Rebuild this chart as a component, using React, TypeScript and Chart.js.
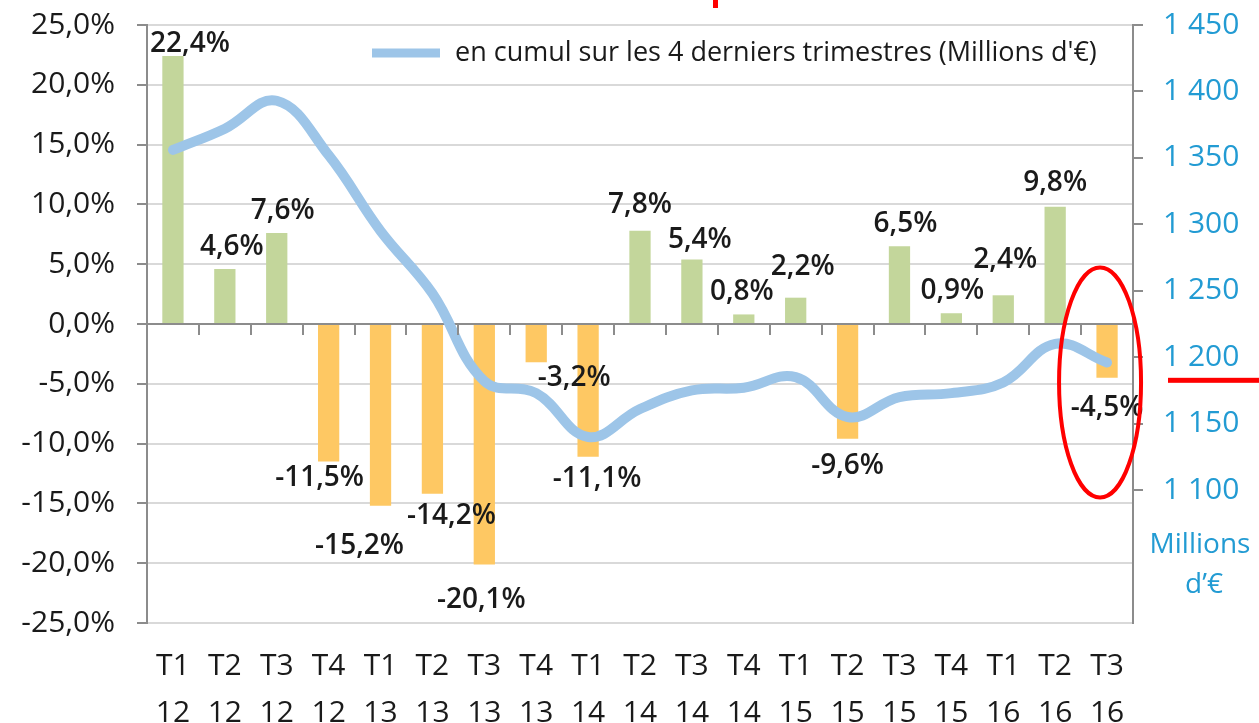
import React, { useEffect, useRef } from 'react';
import { Chart, registerables } from 'chart.js';

Chart.register(...registerables);

// ---- data ----
const quarters = ['T1', 'T2', 'T3', 'T4', 'T1', 'T2', 'T3', 'T4', 'T1', 'T2', 'T3', 'T4', 'T1', 'T2', 'T3', 'T4', 'T1', 'T2', 'T3'];
const years = ['12', '12', '12', '12', '13', '13', '13', '13', '14', '14', '14', '14', '15', '15', '15', '15', '16', '16', '16'];
const growthPct = [22.4, 4.6, 7.6, -11.5, -15.2, -14.2, -20.1, -3.2, -11.1, 7.8, 5.4, 0.8, 2.2, -9.6, 6.5, 0.9, 2.4, 9.8, -4.5];
const cumulMillions = [1356, 1372, 1393, 1352, 1295, 1248, 1182, 1173, 1140, 1161, 1175, 1177, 1185, 1155, 1170, 1173, 1181, 1210, 1196];
const legendLabel = "en cumul sur les 4 derniers trimestres (Millions d'€)";
const rightAxisTitle = ['Millions', 'd\u2019€'];

// label nudges (style only): [dx, dy] in px relative to default placement
const labelNudge: [number, number][] = [
  [17, 10], [7, 0], [6, 0], [-9, -6], [-21, 18], [19, 0], [-3, 14], [38, -6], [9, 0], [0, -4],
  [8, 3], [-2, 0], [7, -9], [0, 5], [6, 0], [1, 0], [2, -13], [0, -2], [0, 8],
];

const FONT = '"Open Sans", "Noto Sans", sans-serif';
const GREEN = '#C3D69B';
const ORANGE = '#FEC863';
const BLUE_LINE = '#9DC5E8';
const BLUE_TEXT = '#229BD3';
const AXIS = '#8C8C8C';
const GRID = '#D9D9D9';
const TEXT = '#1A1A1A';

const fmtPct = (v: number) => v.toFixed(1).replace('.', ',') + '%';
const fmtMillions = (v: number) => {
  const s = String(Math.round(v));
  return s.length > 3 ? s.slice(0, s.length - 3) + ' ' + s.slice(-3) : s;
};

const overlayPlugin = {
  id: 'overlay',
  afterDatasetsDraw(chart: any) {
    const { ctx, chartArea, scales } = chart;
    const x = scales.x;
    const y = scales.y;
    const y0 = y.getPixelForValue(0);

    // tick marks on the zero axis line
    ctx.save();
    ctx.strokeStyle = AXIS;
    ctx.lineWidth = 2;
    for (let i = 1; i < quarters.length; i++) {
      const px = Math.round((x.getPixelForValue(i - 1) + x.getPixelForValue(i)) / 2);
      ctx.beginPath();
      ctx.moveTo(px, y0);
      ctx.lineTo(px, y0 + 11);
      ctx.stroke();
    }
    ctx.restore();

    // data labels
    const meta = chart.getDatasetMeta(0);
    ctx.save();
    ctx.font = `600 28px ${FONT}`;
    ctx.fillStyle = TEXT;
    ctx.textAlign = 'center';
    ctx.textBaseline = 'middle';
    meta.data.forEach((bar: any, i: number) => {
      const v = growthPct[i];
      const [dx, dy] = labelNudge[i] || [0, 0];
      const ly = v >= 0 ? bar.y - 22 : bar.y + 22;
      ctx.fillText(fmtPct(v), bar.x + dx, ly + dy);
    });
    ctx.restore();

    // legend inside chart area
    ctx.save();
    const legY = chartArea.top + 28;
    ctx.strokeStyle = BLUE_LINE;
    ctx.lineWidth = 9;
    ctx.beginPath();
    ctx.moveTo(372, legY);
    ctx.lineTo(440, legY);
    ctx.stroke();
    ctx.font = `27px ${FONT}`;
    ctx.fillStyle = TEXT;
    ctx.textAlign = 'left';
    ctx.textBaseline = 'middle';
    ctx.fillText(legendLabel, 455, legY);
    ctx.restore();
  },
  afterDraw(chart: any) {
    const { ctx, scales, chartArea } = chart;
    const x = scales.x;
    const y1 = scales.y1;
    ctx.save();
    // right axis unit title
    ctx.font = `28px ${FONT}`;
    ctx.fillStyle = BLUE_TEXT;
    ctx.textAlign = 'center';
    ctx.textBaseline = 'middle';
    ctx.fillText(rightAxisTitle[0], 1200, y1.getPixelForValue(1050) - 12);
    ctx.fillText(rightAxisTitle[1], 1204, y1.getPixelForValue(1050) + 28);

    // red annotations
    ctx.strokeStyle = '#FF0000';
    ctx.lineWidth = 4;
    const last = quarters.length - 1;
    ctx.beginPath();
    ctx.ellipse(x.getPixelForValue(last) - 7, y1.getPixelForValue(1181), 41, 115, 0, 0, Math.PI * 2);
    ctx.stroke();
    ctx.fillStyle = '#FF0000';
    ctx.fillRect(chartArea.right + 35, y1.getPixelForValue(1183) - 2, 100, 5);
    ctx.fillRect(713, 0, 5, 8);
    ctx.restore();
  },
};

const noVPad = (s: any, w: number) => {
  s.width = w;
  s.paddingTop = 0;
  s.paddingBottom = 0;
};

export default function App() {
  const canvasRef = useRef<HTMLCanvasElement | null>(null);

  useEffect(() => {
    if (!canvasRef.current) return;
    const labels = quarters.map((q, i) => [q, years[i]]);
    const chart = new Chart(canvasRef.current, {
      type: 'bar',
      data: {
        labels,
        datasets: [
          {
            type: 'bar',
            label: 'Variation',
            data: growthPct,
            yAxisID: 'y',
            backgroundColor: growthPct.map((v) => (v >= 0 ? GREEN : ORANGE)),
            barPercentage: 0.41,
            categoryPercentage: 1,
            order: 2,
          },
          {
            type: 'line',
            label: legendLabel,
            data: cumulMillions,
            yAxisID: 'y1',
            borderColor: BLUE_LINE,
            borderWidth: 10,
            tension: 0.4,
            pointRadius: 0,
            borderCapStyle: 'round',
            borderJoinStyle: 'round',
            order: 1,
          } as any,
        ],
      },
      options: {
        animation: false,
        responsive: true,
        maintainAspectRatio: false,
        layout: { padding: { top: 25, left: 0, right: 0, bottom: 0 } },
        plugins: {
          legend: { display: false },
          tooltip: { enabled: false },
        },
        scales: {
          x: {
            grid: { display: false, drawTicks: false },
            border: { display: false },
            ticks: {
              color: TEXT,
              font: { family: FONT, size: 30, lineHeight: 1.57 },
              padding: 20,
              maxRotation: 0,
              autoSkip: false,
            },
            afterFit: (s: any) => {
              s.height = 100;
              s.paddingLeft = 0;
              s.paddingRight = 0;
            },
          },
          y: {
            position: 'left',
            min: -25,
            max: 25,
            ticks: {
              stepSize: 5,
              color: TEXT,
              font: { family: FONT, size: 30 },
              padding: 22,
              callback: (v: any) => fmtPct(Number(v)),
            },
            grid: {
              color: (c: any) => (c.tick && c.tick.value === 0 ? AXIS : GRID),
              lineWidth: 2,
              tickLength: 10,
              tickColor: AXIS,
            },
            border: { color: AXIS, width: 2 },
            afterFit: (s: any) => noVPad(s, 147),
          },
          y1: {
            position: 'right',
            min: 1000,
            max: 1450,
            ticks: {
              stepSize: 50,
              color: BLUE_TEXT,
              font: { family: FONT, size: 30 },
              padding: 20,
              callback: (v: any) => (Number(v) >= 1100 ? fmtMillions(Number(v)) : ''),
            },
            grid: {
              drawOnChartArea: false,
              lineWidth: 2,
              tickLength: 10,
              tickColor: (c: any) => (c.tick && c.tick.value >= 1100 ? AXIS : 'rgba(0,0,0,0)'),
            },
            border: { color: AXIS, width: 2 },
            afterFit: (s: any) => noVPad(s, 126),
          },
        },
      },
      plugins: [overlayPlugin],
    });
    return () => chart.destroy();
  }, []);

  return (
    <div style={{ position: 'fixed', left: 0, top: 0, width: 1259, height: 723, background: '#fff' }}>
      <canvas ref={canvasRef} />
    </div>
  );
}
